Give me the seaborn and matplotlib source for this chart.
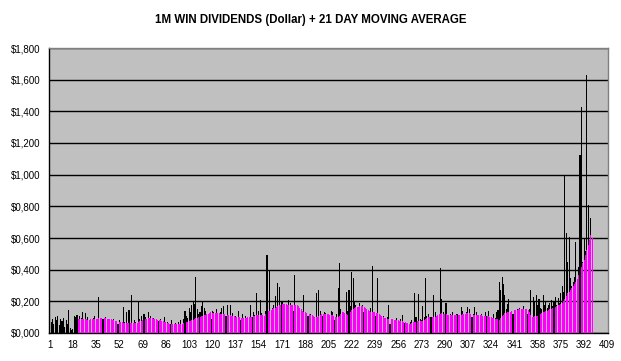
import matplotlib
matplotlib.use("Agg")
import matplotlib.pyplot as plt
import numpy as np
import pandas as pd
import seaborn as sns

TITLE = "1M WIN DIVIDENDS (Dollar) + 21 DAY MOVING AVERAGE"

# daily dividend, one value per day (day 1 .. 398)
dividends = [
    95, 70, 90, 60, 100, 85, 110, 50, 90, 75,
    95, 40, 85, 60, 145, 30, 20, 25, 110, 100,
    115, 90, 105, 95, 130, 60, 125, 70, 100, 45,
    85, 60, 95, 110, 70, 55, 230, 80, 65, 90,
    70, 100, 60, 85, 55, 75, 50, 90, 40, 70,
    55, 80, 60, 45, 165, 70, 130, 55, 145, 40,
    240, 60, 85, 70, 50, 195, 90, 110, 75, 120,
    100, 85, 130, 90, 110, 70, 95, 60, 80, 50,
    75, 90, 40, 65, 100, 55, 70, 45, 60, 80,
    50, 35, 65, 60, 70, 45, 80, 55, 90, 140,
    110, 95, 160, 130, 175, 200, 185, 355, 150, 120,
    130, 170, 195, 160, 140, 100, 120, 115, 90, 140,
    135, 100, 150, 110, 90, 130, 160, 170, 120, 110,
    175, 100, 180, 90, 125, 85, 110, 95, 140, 80,
    85, 120, 70, 110, 60, 95, 75, 178, 100, 130,
    115, 255, 90, 140, 210, 125, 95, 110, 140, 490,
    110, 390, 130, 155, 175, 233, 150, 315, 290, 160,
    200, 180, 170, 150, 140, 210, 190, 175, 140, 365,
    160, 150, 135, 110, 100, 95, 240, 120, 85, 110,
    95, 120, 80, 110, 90, 250, 100, 270, 140, 120,
    110, 135, 125, 100, 110, 90, 140, 130, 80, 100,
    120, 285, 440, 150, 130, 110, 100, 260, 140, 270,
    170, 385, 345, 200, 180, 160, 140, 190, 150, 175,
    130, 120, 140, 100, 110, 160, 425, 130, 110, 120,
    345, 100, 70, 90, 110, 80, 75, 100, 180, 60,
    90, 70, 80, 65, 95, 60, 75, 90, 115, 50,
    65, 55, 45, 60, 70, 80, 65, 250, 100, 75,
    245, 90, 80, 170, 100, 345, 110, 120, 90, 100,
    80, 240, 130, 100, 95, 110, 410, 215, 130, 120,
    190, 110, 100, 120, 95, 130, 115, 100, 120, 110,
    90, 165, 140, 100, 120, 130, 165, 150, 110, 100,
    120, 165, 130, 100, 95, 110, 120, 90, 100, 130,
    110, 140, 90, 100, 80, 120, 95, 130, 145, 320,
    270, 355, 310, 240, 150, 185, 215, 130, 110, 120,
    140, 130, 150, 120, 160, 135, 150, 170, 140, 130,
    120, 150, 270, 100, 225, 200, 240, 180, 215, 160,
    150, 240, 180, 200, 160, 175, 190, 210, 170, 200,
    230, 180, 220, 190, 250, 300, 260, 1000, 630, 450,
    605, 345, 300, 320, 355, 575, 280, 415, 1125, 1430,
    450, 600, 520, 1630, 810, 560, 725, 300,
]

# 21 day moving average (day 21 .. 398)
ma_start = 21
moving_avg = [
    85, 86, 87, 88, 88, 87, 86, 86, 85, 85,
    86, 86, 87, 87, 88, 90, 92, 94, 95, 95,
    94, 93, 91, 90, 88, 86, 83, 80, 78, 75,
    73, 71, 69, 67, 65, 64, 63, 63, 62, 62,
    63, 64, 64, 65, 65, 70, 74, 78, 82, 85,
    88, 91, 93, 94, 95, 93, 91, 89, 87, 85,
    82, 79, 76, 73, 70, 67, 64, 62, 60, 58,
    57, 56, 56, 55, 55, 56, 58, 60, 62, 65,
    67, 70, 73, 75, 79, 83, 87, 92, 96, 100,
    103, 106, 109, 112, 115, 118, 122, 126, 130, 129,
    128, 127, 126, 125, 124, 123, 122, 121, 120, 118,
    116, 114, 112, 110, 107, 105, 103, 100, 99, 98,
    97, 96, 95, 96, 97, 98, 99, 100, 103, 106,
    109, 112, 115, 114, 113, 112, 111, 110, 118, 128,
    136, 142, 145, 150, 155, 160, 165, 172, 177, 180,
    182, 183, 182, 181, 180, 179, 178, 178, 179, 180,
    180, 175, 168, 160, 150, 142, 135, 130, 125, 121,
    118, 115, 112, 108, 104, 100, 104, 108, 113, 118,
    119, 120, 120, 120, 118, 116, 115, 112, 108, 104,
    102, 100, 110, 122, 130, 133, 125, 118, 113, 125,
    135, 145, 152, 158, 162, 165, 167, 169, 170, 170,
    165, 160, 153, 145, 140, 135, 133, 131, 130, 129,
    128, 120, 112, 105, 99, 95, 93, 91, 89, 88,
    87, 86, 85, 83, 81, 79, 77, 76, 74, 72,
    69, 65, 61, 58, 60, 63, 67, 70, 72, 74,
    75, 76, 77, 78, 82, 87, 93, 100, 101, 101,
    100, 100, 100, 105, 112, 118, 122, 125, 123, 120,
    118, 116, 115, 115, 115, 115, 115, 115, 115, 115,
    115, 115, 117, 120, 123, 126, 128, 125, 121, 118,
    116, 115, 114, 113, 112, 112, 111, 110, 109, 108,
    106, 105, 103, 100, 97, 94, 91, 90, 88, 85,
    95, 105, 115, 125, 128, 131, 133, 135, 137, 140,
    143, 146, 148, 150, 150, 150, 150, 150, 150, 150,
    145, 135, 115, 100, 102, 105, 108, 110, 115, 120,
    125, 130, 135, 138, 142, 146, 150, 154, 158, 162,
    165, 170, 175, 180, 185, 188, 200, 215, 232, 250,
    262, 272, 283, 295, 310, 325, 340, 365, 390, 420,
    440, 460, 490, 522, 555, 585, 618, 600,
]

y_ticks = list(range(0, 1801, 200))
x_ticks = list(range(1, 410, 17))

daily = pd.DataFrame({"day": np.arange(1, len(dividends) + 1), "value": dividends})
avg = pd.DataFrame({"day": np.arange(ma_start, ma_start + len(moving_avg)),
                    "value": moving_avg})

sns.set_theme(style="white")
plt.rcParams["font.family"] = ["Liberation Sans", "DejaVu Sans"]
plt.rcParams["text.color"] = "black"
plt.rcParams["xtick.color"] = "black"
plt.rcParams["ytick.color"] = "black"

fig = plt.figure(figsize=(6.21, 3.61), dpi=100)
ax = fig.add_axes([49 / 621, 1 - 333 / 361, 559 / 621, 285 / 361])
ax.set_facecolor("#c0c0c0")

sns.barplot(data=daily, x="day", y="value", native_scale=True, color="black",
            saturation=1, width=0.8, linewidth=0, errorbar=None, ax=ax, zorder=2)
sns.barplot(data=avg, x="day", y="value", native_scale=True, color="#ff00ff",
            saturation=1, width=0.7, linewidth=0, errorbar=None, ax=ax, zorder=3)

ax.set_xlim(0.5, 409.5)
ax.set_ylim(0, 1800)
ax.set_yticks(y_ticks)
ax.set_yticklabels([f"${v // 1000},{v % 1000:03d}" for v in y_ticks], fontsize=7)
ax.set_xticks(x_ticks)
ax.set_xticklabels([str(v) for v in x_ticks], fontsize=7)
ax.set_xticks(np.arange(0.5, 410, 2), minor=True)
ax.tick_params(axis="x", which="major", length=0, pad=5, labelcolor="black")
ax.tick_params(axis="x", which="minor", length=3, width=0.8, color="black", direction="out")
ax.tick_params(axis="y", length=4, width=0.8, color="black", direction="out", pad=2,
               labelcolor="black")
ax.yaxis.grid(True, color="black", linewidth=1.0)
ax.set_axisbelow(True)
ax.set_xlabel("")
ax.set_ylabel("")
for side, sp in ax.spines.items():
    sp.set_color("#808080")
    sp.set_linewidth(1.0)
ax.spines["left"].set_color("black")
ax.spines["bottom"].set_color("black")

fig.text(0.5, 1 - 20 / 361, TITLE, ha="center", va="center",
         fontsize=8.3, fontweight="bold", color="black")

fig.savefig("out.png", dpi=100, facecolor="white")
